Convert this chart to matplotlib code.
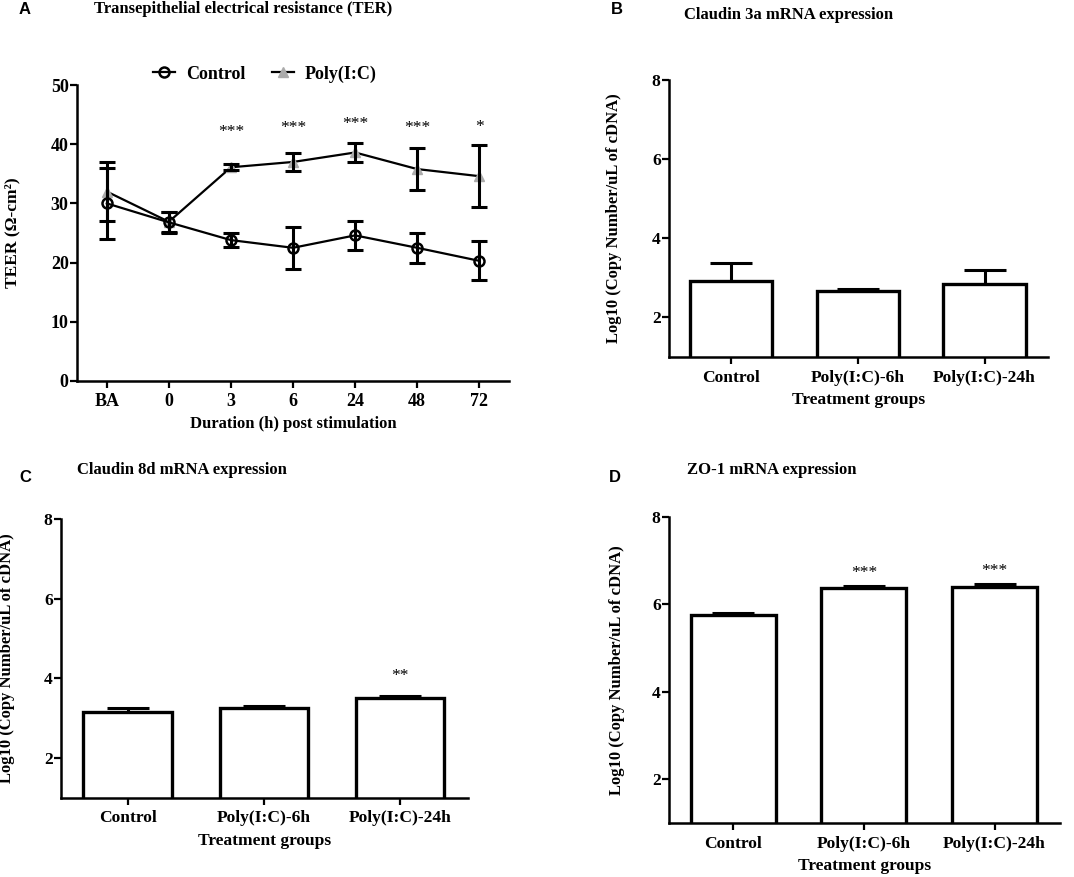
import matplotlib
matplotlib.use("Agg")
import matplotlib.pyplot as plt
import numpy as np

plt.rcParams['font.family'] = ['Liberation Serif', 'DejaVu Serif']
plt.rcParams['font.weight'] = 'bold'
plt.rcParams['axes.labelweight'] = 'bold'

# ---------------- data ----------------
time_labels = ['BA', '0', '3', '6', '24', '48', '72']
ter_control = [30.0, 26.8, 23.8, 22.5, 24.6, 22.5, 20.3]
ter_control_err = [6.0, 1.8, 1.2, 3.5, 2.5, 2.5, 3.3]
ter_poly = [32.0, 26.9, 36.1, 37.0, 38.6, 35.8, 34.6]
ter_poly_err = [5.0, 1.7, 0.5, 1.5, 1.6, 3.5, 5.2]
ter_stars = ['', '', '***', '***', '***', '***', '*']
ter_star_y = [0, 0, 42.0, 42.7, 43.4, 42.7, 42.9]

groups = ['Control', 'Poly(I:C)-6h', 'Poly(I:C)-24h']
cld3a = [2.92, 2.67, 2.85]
cld3a_err = [0.45, 0.04, 0.35]
cld3a_stars = ['', '', '']
cld8d = [3.15, 3.26, 3.50]
cld8d_err = [0.10, 0.06, 0.06]
cld8d_stars = ['', '', '**']
zo1 = [5.76, 6.37, 6.41]
zo1_err = [0.05, 0.05, 0.05]
zo1_stars = ['', '***', '***']

W, H = 1074, 877
fig = plt.figure(figsize=(W / 100, H / 100), dpi=100)


def rect(l, r, t, b):
    return [l / W, 1 - b / H, (r - l) / W, (b - t) / H]


def style_axes(ax, tick_fs):
    for s in ['top', 'right']:
        ax.spines[s].set_visible(False)
    for s in ['left', 'bottom']:
        ax.spines[s].set_linewidth(1.8)
    ax.tick_params(axis='both', width=1.6, length=5, labelsize=tick_fs)
    ax.tick_params(axis='y', pad=1)
    ax.tick_params(axis='x', pad=4)
    for lab in ax.get_xticklabels() + ax.get_yticklabels():
        lab.set_fontweight('bold')


# ---------------- Panel A ----------------
axA = fig.add_axes(rect(77, 509, 85, 381))
x = np.arange(len(time_labels))
axA.errorbar(x, ter_control, yerr=ter_control_err, fmt='none', ecolor='black',
             elinewidth=2.2, capsize=5.5, capthick=2.2, zorder=3)
axA.errorbar(x, ter_poly, yerr=ter_poly_err, fmt='none', ecolor='black',
             elinewidth=2.2, capsize=5.5, capthick=2.2, zorder=3)
lc, = axA.plot(x, ter_control, color='black', lw=1.6, marker='o', ms=7.2,
               mfc='none', mec='black', mew=1.8, label='Control', zorder=4)
lp, = axA.plot(x, ter_poly, color='black', lw=1.6, marker='^', ms=6.5,
               mfc='#ababab', mec='#ababab', label='Poly(I:C)', zorder=2)
for xi, s, yy in zip(x, ter_stars, ter_star_y):
    if s:
        axA.text(xi, yy, s, ha='center', va='center', fontsize=12.5, fontweight='normal')
axA.set_xlim(-0.48, 6.48)
axA.set_ylim(0, 50)
axA.set_yticks([0, 10, 20, 30, 40, 50])
axA.set_xticks(x)
axA.set_xticklabels(time_labels)
axA.set_xlabel('Duration (h) post stimulation', fontsize=12, fontweight='bold')
axA.set_ylabel('TEER (Ω-cm²)', fontsize=12.5, fontweight='bold')
axA.xaxis.set_label_coords(0.5, -0.118)
axA.yaxis.set_label_coords(-0.13, 0.5)
style_axes(axA, 13)
leg = axA.legend(handles=[lc, lp], loc='center', bbox_to_anchor=(0.435, 1.037),
                 ncol=2, frameon=False, fontsize=13, handlelength=1.2,
                 columnspacing=1.5, handletextpad=0.6, borderaxespad=0)
for t in leg.get_texts():
    t.set_fontweight('bold')


# ---------------- Bar panels ----------------
def bar_panel(r, vals, errs, stars, star_off, xl_y, yl_x):
    ax = fig.add_axes(r)
    xb = np.arange(len(groups))
    ax.errorbar(xb, vals, yerr=errs, fmt='none', ecolor='black', elinewidth=2.2,
                capsize=15, capthick=2.2, zorder=1)
    ax.bar(xb, vals, width=0.65, color='white', edgecolor='black', linewidth=2.4,
           zorder=2)
    for xi, v, e, s in zip(xb, vals, errs, stars):
        if s:
            ax.text(xi, v + e + star_off, s, ha='center', va='center',
                    fontsize=12.5, fontweight='normal')
    ax.set_xlim(-0.49, 2.5)
    ax.set_ylim(1, 8)
    ax.set_yticks([2, 4, 6, 8])
    ax.set_xticks(xb)
    ax.set_xticklabels(groups)
    ax.set_xlabel('Treatment groups', fontsize=12.5, fontweight='bold')
    ax.set_ylabel('Log10 (Copy Number/uL of cDNA)', fontsize=12, fontweight='bold')
    ax.xaxis.set_label_coords(0.5, xl_y)
    ax.yaxis.set_label_coords(yl_x, 0.5)
    style_axes(ax, 12.6)
    return ax


bar_panel(rect(669, 1048, 80, 357), cld3a, cld3a_err, cld3a_stars, 0.3, -0.126, -0.124)
bar_panel(rect(61, 468, 519, 798), cld8d, cld8d_err, cld8d_stars, 0.49, -0.125, -0.113)
bar_panel(rect(669, 1060, 517, 823), zo1, zo1_err, zo1_stars, 0.3, -0.114, -0.1125)

# ---------------- titles & panel letters ----------------
titles = [
    ('A', 25, 10, 'Transepithelial electrical resistance (TER)', 94, 9),
    ('B', 617, 10, 'Claudin 3a mRNA expression', 684, 15),
    ('C', 25, 477, 'Claudin 8d mRNA expression', 77, 470),
    ('D', 615, 477, 'ZO-1 mRNA expression', 687, 470),
]
for let, lx, ly, tt, tx, ty in titles:
    fig.text(lx / W, 1 - ly / H, let, ha='center', va='center', fontsize=12,
             fontweight='bold', family=['Liberation Sans', 'DejaVu Sans'])
    fig.text(tx / W, 1 - ty / H, tt, ha='left', va='center', fontsize=12,
             fontweight='bold')

fig.savefig('out.png', dpi=100)
